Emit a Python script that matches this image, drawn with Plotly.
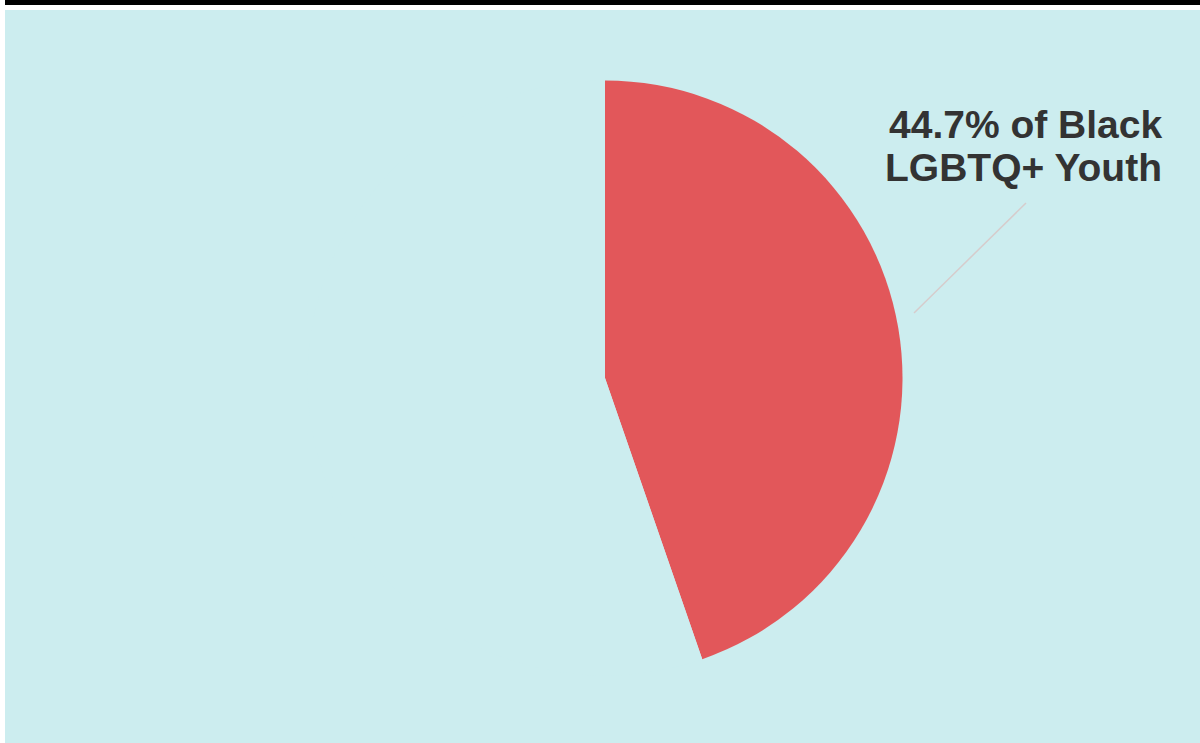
import plotly.graph_objects as go

# Share of Black LGBTQ+ youth (highlighted) vs. remainder
labels = ["Black LGBTQ+ Youth", "Other"]
values = [44.7, 55.3]
slice_colors = ["#E2575A", "#CCEDEF"]

W, H = 1200, 743

def px_x(x):
    return x / W

def px_y(y):
    return 1 - y / H

fig = go.Figure(
    go.Pie(
        labels=labels,
        values=values,
        sort=False,
        direction="clockwise",
        rotation=0,
        marker=dict(colors=slice_colors, line=dict(width=0)),
        textinfo="none",
        hoverinfo="label+percent",
        showlegend=False,
        domain=dict(
            x=[px_x(605 - 297.5), px_x(605 + 297.5)],
            y=[px_y(378 + 297.5), px_y(378 - 297.5)],
        ),
    )
)

shapes = [
    # panel background
    dict(type="rect", xref="paper", yref="paper", layer="below",
         x0=px_x(5), x1=1, y0=0, y1=px_y(10),
         fillcolor="#CCEDEF", line=dict(width=0)),
    # black rule across the top
    dict(type="rect", xref="paper", yref="paper", layer="below",
         x0=px_x(5), x1=1, y0=px_y(5), y1=1,
         fillcolor="#000000", line=dict(width=0)),
    # leader line from slice to label
    dict(type="line", xref="paper", yref="paper",
         x0=px_x(914), y0=px_y(313), x1=px_x(1026), y1=px_y(203),
         line=dict(color="#D6CCCC", width=1.5)),
]

label_font = dict(family="Liberation Sans, Arial, sans-serif", size=39, color="#333333")
annotations = [
    dict(text=f"<b>{values[0]}% of Black</b>", xref="paper", yref="paper",
         x=px_x(1164), y=px_y(124), xanchor="right", yanchor="middle",
         showarrow=False, font=label_font),
    dict(text="<b>LGBTQ+ Youth</b>", xref="paper", yref="paper",
         x=px_x(1164), y=px_y(167), xanchor="right", yanchor="middle",
         showarrow=False, font=label_font),
]

fig.update_layout(
    width=W,
    height=H,
    margin=dict(l=0, r=0, t=0, b=0),
    paper_bgcolor="#FFFFFF",
    shapes=shapes,
    annotations=annotations,
)

fig.write_html("out.html")
